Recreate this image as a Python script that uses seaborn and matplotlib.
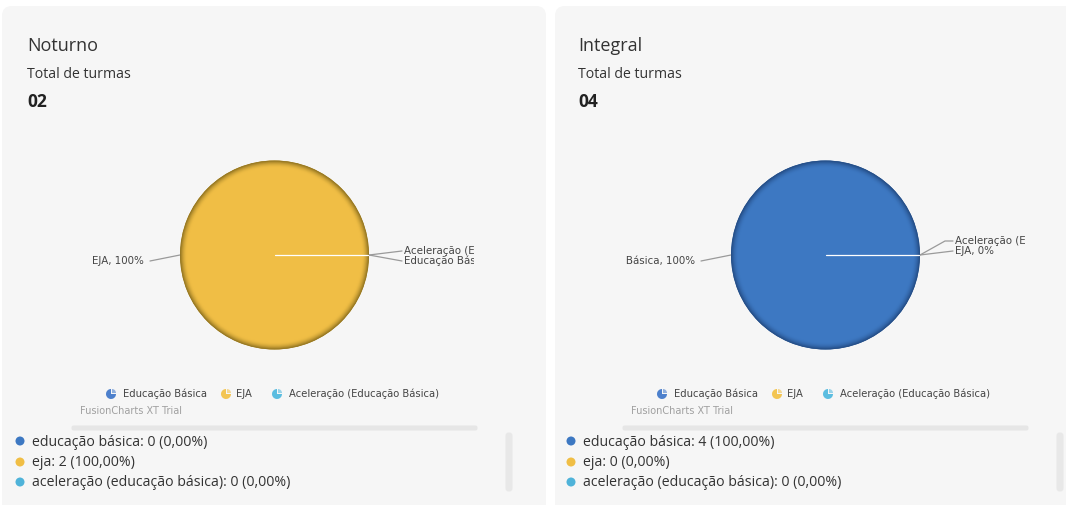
import matplotlib
matplotlib.use("Agg")
import matplotlib.pyplot as plt
import seaborn as sns
import numpy as np
from matplotlib.patches import FancyBboxPatch, Wedge, Circle, Rectangle
import matplotlib.colors as mcolors

# ---------------- data ----------------
periods = ["Noturno", "Integral"]
totals = ["02", "04"]
categories = ["Educação Básica", "EJA", "Aceleração (Educação Básica)"]
values_noturno = [0, 2, 0]
values_integral = [4, 0, 0]
all_values = [values_noturno, values_integral]

cat_colors = ["#3d78c2", "#f0be45", "#4fb3d9"]
edge_colors = ["#1e4378", "#7f6519", "#2d7fa0"]
legend_icon_colors = ["#4d80cc", "#f3c552", "#5bbde0"]

sns.set_theme(style="white")
plt.rcParams['font.family'] = ['Open Sans', 'DejaVu Sans']

W, H = 1066, 505
fig = plt.figure(figsize=(W / 100, H / 100), dpi=100)
fig.patch.set_facecolor("white")
ax = fig.add_axes([0, 0, 1, 1])
ax.set_xlim(0, W)
ax.set_ylim(H, 0)
ax.axis("off")

panel_x = [2, 555]
panel_w = [544, 530]
offset = [0, 551]

# label layout (style): per chart, for each category: side, text-y
label_layout = [
    {0: ("R", 261), 1: ("L", 261), 2: ("R", 251)},
    {0: ("L", 261), 1: ("R", 251), 2: ("R", 241)},
]

for k in range(2):
    dx = offset[k]
    vals = all_values[k]
    total = sum(vals)
    # panel
    ax.add_patch(FancyBboxPatch((panel_x[k] + 10, 16), panel_w[k] - 20, 520,
                                boxstyle="round,pad=10,rounding_size=10",
                                facecolor="#f6f6f6", edgecolor="none", zorder=0))
    # titles
    ax.text(27 + dx, 46, periods[k], fontsize=13, color="#333333", va="center", ha="left")
    ax.text(27 + dx, 74, "Total de turmas", fontsize=10.2, color="#333333", va="center", ha="left")
    ax.text(27 + dx, 102, totals[k], fontsize=12.5, fontweight="bold", color="#222222",
            va="center", ha="left")

    # pie
    cx, cy, r = 274.5 + dx, 255, 94.5
    main = int(np.argmax(vals))
    wedges, _ = ax.pie(vals, colors=cat_colors, startangle=0, center=(cx, cy), radius=r,
                       frame=True, wedgeprops=dict(linewidth=0))
    # shaded rim
    fill = np.array(mcolors.to_rgb(cat_colors[main]))
    dark = np.array(mcolors.to_rgb(edge_colors[main]))
    nring = 14
    step = 0.5
    for i in range(nring):
        t = (1 - i / nring) ** 1.8
        col = fill * (1 - t) + dark * t
        ax.add_patch(Wedge((cx, cy), r - i * step, 0, 360, width=step + 0.15, facecolor=col,
                           edgecolor="none", zorder=3))
    ax.plot([cx, cx + r - 1], [cy, cy], color="white", lw=0.9, zorder=4)

    clip = Rectangle((75 + dx, 150), 399, 220, transform=ax.transData)
    for ci, cat in enumerate(categories):
        side, ty = label_layout[k][ci]
        pct = 100 * vals[ci] / total
        txt = f"{cat}, {pct:.0f}%"
        if side == "L":
            x0, y0 = cx - r, cy
            ax.plot([x0, x0 - 30], [y0, ty], color="#9a9a9a", lw=0.9, zorder=2)
            t = ax.text(x0 - 36, ty, txt, fontsize=7.4, family="DejaVu Sans", color="#444444",
                        ha="right", va="center", clip_on=True)
        else:
            x0, y0 = cx + r, cy
            if ty < 245:
                ax.plot([x0, x0 + 25, x0 + 33], [y0, ty, ty], color="#9a9a9a", lw=0.9, zorder=2)
            else:
                ax.plot([x0, x0 + 33], [y0, ty], color="#9a9a9a", lw=0.9, zorder=2)
            t = ax.text(x0 + 35, ty, txt, fontsize=7.4, family="DejaVu Sans", color="#444444",
                        ha="left", va="center", clip_on=True)
        t.set_clip_path(clip)

    # chart legend with pie icons
    icon_x = [111 + dx, 226 + dx, 277 + dx]
    text_x = [123 + dx, 236 + dx, 289 + dx]
    for ci, cat in enumerate(categories):
        ix, iy = icon_x[ci], 394
        ax.add_patch(Wedge((ix, iy), 5, 0, 270, facecolor=legend_icon_colors[ci],
                           edgecolor="none", zorder=3))
        ax.add_patch(Wedge((ix + 1, iy - 1), 4, 270, 360, facecolor=legend_icon_colors[ci],
                           edgecolor="none", alpha=0.6, zorder=3))
        ax.text(text_x[ci], iy, cat, fontsize=7.2, family="DejaVu Sans", color="#444444",
                ha="left", va="center")
    ax.text(80 + dx, 411, "FusionCharts XT Trial", fontsize=7.0, family="DejaVu Sans",
            color="#a0a0a0", ha="left", va="center")

    # scrollbars
    ax.add_patch(FancyBboxPatch((73 + dx, 427), 403, 2,
                                boxstyle="round,pad=1.5,rounding_size=2",
                                facecolor="#e6e6e6", edgecolor="none", zorder=1))
    ax.add_patch(FancyBboxPatch((507 + dx, 434), 4, 56,
                                boxstyle="round,pad=1.5,rounding_size=3",
                                facecolor="#e8e8e8", edgecolor="none", zorder=1))

    # bottom legend
    ys = [441, 462, 482]
    for ci, cat in enumerate(categories):
        pct = 100 * vals[ci] / total
        pct_s = f"{pct:.2f}".replace(".", ",")
        ax.add_patch(Circle((20 + dx, ys[ci]), 4.5, facecolor=cat_colors[ci],
                            edgecolor="none", zorder=3))
        ax.text(32 + dx, ys[ci] + 1, f"{cat.lower()}: {vals[ci]} ({pct_s}%)", fontsize=10.2,
                color="#333333", ha="left", va="center")

ax.set_xlim(0, W)
ax.set_ylim(H, 0)
ax.set_aspect("auto")
fig.savefig("out.png", dpi=100, facecolor="white")
